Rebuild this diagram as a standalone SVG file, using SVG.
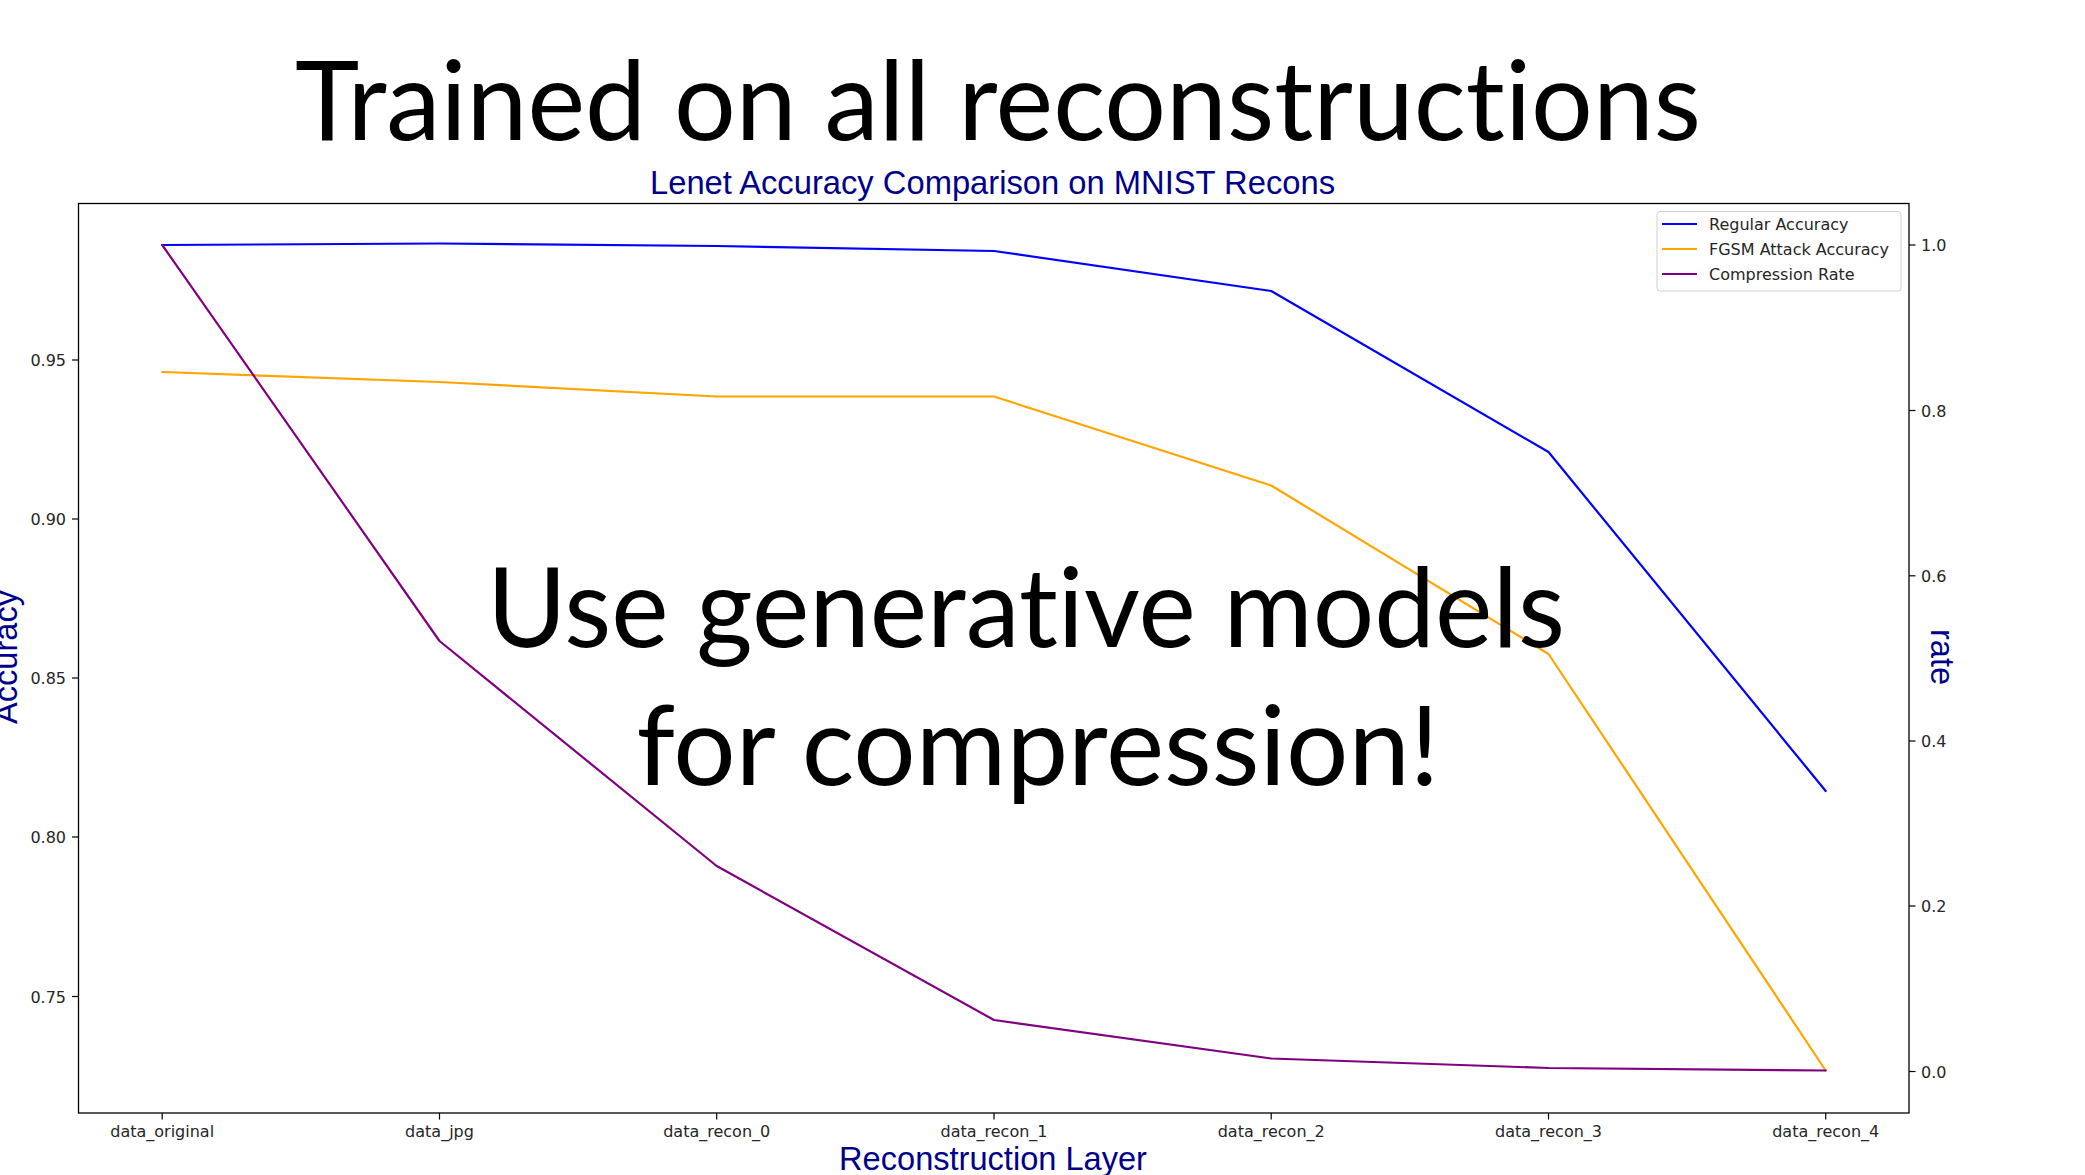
<svg xmlns="http://www.w3.org/2000/svg" width="2085" height="1175" viewBox="0 0 2085 1175">
<style>
.big{font-family:Lato,"Open Sans",sans-serif;font-size:110px;fill:#000;font-variant-ligatures:none;font-feature-settings:"liga" 0}
.tick{font-family:"DejaVu Sans",sans-serif;font-size:16px;fill:#262626}
.lab{font-family:"Liberation Sans",Arial,sans-serif;font-size:32.6px;fill:#00008b}
.spine{fill:none;stroke:#000;stroke-width:1.3}
.tk{stroke:#000;stroke-width:1.2}
.series{fill:none;stroke-width:2.2;stroke-linejoin:round;stroke-linecap:round}
.leg{font-family:"DejaVu Sans",sans-serif;font-size:16px;fill:#262626}
</style>
<rect x="0" y="0" width="2085" height="1175" fill="#fff"/>
<g id="slide-title">
<text class="big" x="998" y="140" text-anchor="middle" textLength="1406" lengthAdjust="spacingAndGlyphs">Trained on all reconstructions</text>
</g>
<g id="chart-title">
<text class="lab" x="992.5" y="194" text-anchor="middle" textLength="685" lengthAdjust="spacingAndGlyphs">Lenet Accuracy Comparison on MNIST Recons</text>
</g>
<g id="axes">
<rect class="spine" x="78.5" y="203.5" width="1830.5" height="909.5"/>
<g id="left-ticks">
<line class="tk" x1="72" y1="360" x2="78.5" y2="360"/>
<line class="tk" x1="72" y1="519" x2="78.5" y2="519"/>
<line class="tk" x1="72" y1="678" x2="78.5" y2="678"/>
<line class="tk" x1="72" y1="837" x2="78.5" y2="837"/>
<line class="tk" x1="72" y1="996.5" x2="78.5" y2="996.5"/>
<text class="tick" x="66" y="366" text-anchor="end">0.95</text>
<text class="tick" x="66" y="525" text-anchor="end">0.90</text>
<text class="tick" x="66" y="684" text-anchor="end">0.85</text>
<text class="tick" x="66" y="843" text-anchor="end">0.80</text>
<text class="tick" x="66" y="1002.5" text-anchor="end">0.75</text>
</g>
<g id="right-ticks">
<line class="tk" x1="1909" y1="245" x2="1915.5" y2="245"/>
<line class="tk" x1="1909" y1="410.5" x2="1915.5" y2="410.5"/>
<line class="tk" x1="1909" y1="575.8" x2="1915.5" y2="575.8"/>
<line class="tk" x1="1909" y1="741" x2="1915.5" y2="741"/>
<line class="tk" x1="1909" y1="906" x2="1915.5" y2="906"/>
<line class="tk" x1="1909" y1="1071.5" x2="1915.5" y2="1071.5"/>
<text class="tick" x="1921" y="251">1.0</text>
<text class="tick" x="1921" y="416.5">0.8</text>
<text class="tick" x="1921" y="581.8">0.6</text>
<text class="tick" x="1921" y="747">0.4</text>
<text class="tick" x="1921" y="912">0.2</text>
<text class="tick" x="1921" y="1077.5">0.0</text>
</g>
<g id="x-ticks">
<line class="tk" x1="162.2" y1="1113" x2="162.2" y2="1119.5"/>
<line class="tk" x1="439.5" y1="1113" x2="439.5" y2="1119.5"/>
<line class="tk" x1="716.7" y1="1113" x2="716.7" y2="1119.5"/>
<line class="tk" x1="994" y1="1113" x2="994" y2="1119.5"/>
<line class="tk" x1="1271.2" y1="1113" x2="1271.2" y2="1119.5"/>
<line class="tk" x1="1548.5" y1="1113" x2="1548.5" y2="1119.5"/>
<line class="tk" x1="1825.7" y1="1113" x2="1825.7" y2="1119.5"/>
<text class="tick" x="162.2" y="1137" text-anchor="middle">data_original</text>
<text class="tick" x="439.5" y="1137" text-anchor="middle">data_jpg</text>
<text class="tick" x="716.7" y="1137" text-anchor="middle">data_recon_0</text>
<text class="tick" x="994" y="1137" text-anchor="middle">data_recon_1</text>
<text class="tick" x="1271.2" y="1137" text-anchor="middle">data_recon_2</text>
<text class="tick" x="1548.5" y="1137" text-anchor="middle">data_recon_3</text>
<text class="tick" x="1825.7" y="1137" text-anchor="middle">data_recon_4</text>
</g>
<text class="lab" x="993" y="1170" text-anchor="middle">Reconstruction Layer</text>
<text class="lab" transform="translate(17,657) rotate(-90)" text-anchor="middle">Accuracy</text>
<text class="lab" transform="translate(1931,657) rotate(90)" text-anchor="middle">rate</text>
</g>
<g id="series">
<polyline id="regular-accuracy" class="series" stroke="#0000ff" points="162.2,245 439.5,243.5 716.7,246 994,251 1271.2,291 1548.5,452 1825.7,791"/>
<polyline id="fgsm-accuracy" class="series" stroke="#ffa500" points="162.2,372 439.5,382 716.7,396.5 994,396.5 1271.2,485.5 1548.5,654 1825.7,1070.5"/>
<polyline id="compression-rate" class="series" stroke="#800080" points="162.2,245 439.5,641 716.7,866 994,1020 1271.2,1058.5 1548.5,1068 1825.7,1070.5"/>
</g>
<g id="legend">
<rect x="1657" y="211.5" width="244" height="79.5" rx="3" ry="3" fill="#fff" fill-opacity="0.8" stroke="#d0d0d0" stroke-width="1"/>
<line x1="1662" y1="224" x2="1697" y2="224" stroke="#0000ff" stroke-width="2.2"/>
<line x1="1662" y1="249" x2="1697" y2="249" stroke="#ffa500" stroke-width="2.2"/>
<line x1="1662" y1="274" x2="1697" y2="274" stroke="#800080" stroke-width="2.2"/>
<text class="leg" x="1709" y="230">Regular Accuracy</text>
<text class="leg" x="1709" y="255">FGSM Attack Accuracy</text>
<text class="leg" x="1709" y="280">Compression Rate</text>
</g>
<g id="overlay-text">
<text class="big" x="1026" y="647" text-anchor="middle" textLength="1078" lengthAdjust="spacingAndGlyphs">Use generative models</text>
<text class="big" x="1038" y="785" text-anchor="middle" textLength="803" lengthAdjust="spacingAndGlyphs">for compression!</text>
</g>
</svg>
